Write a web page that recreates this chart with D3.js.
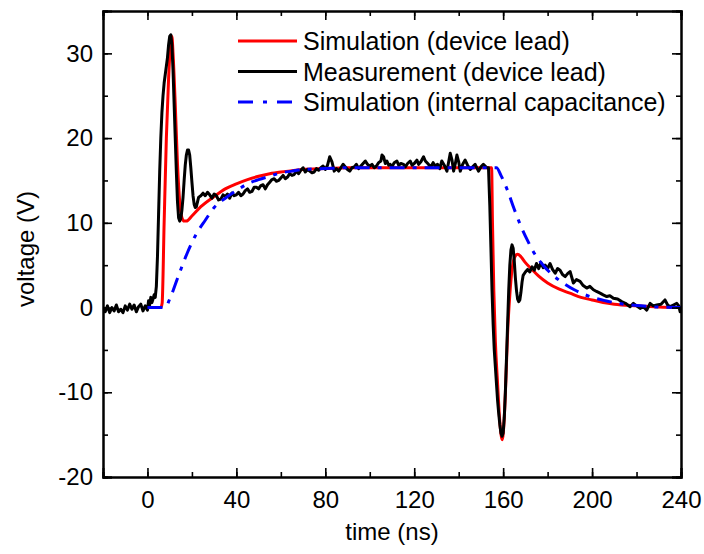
<!DOCTYPE html>
<html>
<head>
<meta charset="utf-8">
<script src="https://cdn.jsdelivr.net/npm/d3@7"></script>
<style>
  body { margin: 0; background: #fff; }
  text { font-family: "Liberation Sans", Arial, sans-serif; }
</style>
</head>
<body>
<div id="chart"></div>
<script>
// Simulation (device lead): [time ns, voltage V]
const simLead = [
  [0, 0], [6, 0], [6.6, 0.5], [7.5, 10], [8.5, 20], [9.5, 27], [10.5, 31.5], [11, 32],
  [11.5, 30], [12.5, 24], [13.5, 17], [14.5, 12.5], [15.5, 10.6], [16.5, 10.2], [17.5, 10.2],
  [20, 10.8], [24, 11.9], [30, 13.1], [35, 14.0], [40, 14.6], [45, 15.1], [50, 15.5],
  [55, 15.8], [60, 16.0], [65, 16.15], [70, 16.3], [80, 16.4], [90, 16.5], [154.8, 16.5],
  [155.2, 10], [155.8, 2], [156.5, -4], [157.5, -9], [158.5, -13.5], [159.6, -15.6],
  [160.5, -13], [161.3, -8], [162, -3], [163, 1.5], [164, 4.5], [165.5, 6.1], [166.5, 6.3],
  [168, 6.0], [170, 5.3], [173, 4.5], [176, 3.7], [180, 2.9], [185, 2.2], [190, 1.7],
  [195, 1.2], [200, 0.9], [205, 0.6], [210, 0.4], [220, 0.2], [230, 0.05], [240, 0]
];

// Measurement (device lead)
const measLead = [
  [-20, 0], [-19, -0.5], [-18, 0.2], [-17, -0.6], [-16, 0], [-15, -0.4], [-14, 0.3],
  [-13, -0.5], [-12, -0.2], [-11, -0.6], [-10, 0.2], [-9, -0.3], [-8, 0.4], [-7, -0.2],
  [-6, 0.3], [-5, -0.5], [-4, 0.1], [-3, 0.4], [-2, -0.4], [-1, 0.2], [0, -0.3],
  [0.5, 0.8], [1, 0.3], [1.5, 1.2], [2, 0.6], [2.5, 1.0], [3, 1.5], [3.5, 1.2], [4, 2.5],
  [4.5, 6], [5, 11], [5.5, 16], [6, 20], [6.5, 23], [7, 25], [7.5, 26.5], [8, 27.5],
  [8.5, 28.5], [9, 29.5], [9.5, 31], [10, 32], [10.5, 32.2], [11, 31], [11.5, 28], [12, 24],
  [12.5, 20], [13, 16], [13.5, 12.5], [14, 10.6], [14.5, 10.2], [15, 10.5], [15.5, 11.5],
  [16, 13], [16.5, 15], [17, 16.8], [17.5, 18], [18, 18.6], [18.5, 18.6], [19, 18],
  [19.5, 16.5], [20, 14.8], [20.5, 13.2], [21, 12.2], [21.5, 11.8], [22, 11.9], [23, 13.0],
  [24, 13.2], [25, 13.5], [26, 13.2], [27, 13.6], [28, 13.3], [29, 12.9], [30, 13.4],
  [31, 13.2], [32, 12.7], [33, 12.8], [34, 13.3], [35, 13.1], [36, 13.4], [37, 12.9],
  [38, 13.5], [39, 13.2], [40, 13.3], [41, 13.6], [42, 13.2], [43, 13.4], [44, 13.8],
  [45, 14.0], [46, 13.6], [47, 13.7], [48, 14.2], [49, 14.2], [50, 14.0], [51, 14.4],
  [52, 14.5], [53, 14.0], [54, 14.5], [55, 14.8], [56, 15.1], [57, 15.2], [58, 14.9],
  [59, 15.0], [60, 15.3], [61, 15.6], [62, 15.2], [63, 15.4], [64, 15.8], [65, 15.6],
  [66, 15.7], [67, 16.1], [68, 15.8], [69, 16.2], [70, 16.5], [71, 16.0], [72, 16.3],
  [73, 16.1], [74, 15.9], [75, 16.0], [76, 16.4], [77, 16.2], [78, 16.5], [79, 16.7],
  [80, 16.3], [81, 16.8], [82, 17.8], [83, 17.2], [84, 16.1], [85, 16.4], [86, 16.1],
  [87, 16.5], [88, 16.9], [89, 16.6], [90, 16.3], [91, 16.1], [92, 16.5], [93, 16.6],
  [94, 16.9], [95, 16.4], [96, 16.7], [97, 17.0], [98, 17.3], [99, 16.9], [100, 16.7],
  [101, 16.9], [102, 16.5], [103, 16.7], [104, 17.1], [105, 17.3], [105.5, 18.0],
  [106.2, 17.8], [107, 17.0], [107.7, 17.3], [108.5, 16.8], [109.2, 16.9], [110, 16.6],
  [111, 17.1], [112.2, 17.3], [113, 16.8], [114, 17.0], [115.2, 16.9], [116, 16.6],
  [117, 17.0], [118.2, 17.3], [119, 16.8], [120, 17.0], [121.2, 17.4], [122, 16.9],
  [123, 17.2], [124.2, 17.8], [125, 17.3], [126.4, 16.9], [127.5, 16.6], [128.5, 17.1],
  [129.4, 16.7], [130.5, 16.9], [131.5, 16.4], [132.4, 17.3], [133.5, 16.8], [134.7, 16.1],
  [135.5, 17.2], [136.2, 18.2], [137, 17.4], [137.7, 16.1], [138.5, 17.0], [139.2, 18.0],
  [140, 17.2], [140.7, 16.1], [141.8, 16.9], [142.9, 17.4], [144, 16.8], [145.2, 16.3],
  [146.3, 16.6], [147.4, 16.9], [148.9, 16.1], [150, 16.6], [151.1, 16.9], [152.7, 16.5],
  [153.4, 16.5], [154, 12], [154.5, 7], [155, 2], [155.5, -2], [156, -5], [156.5, -7],
  [157, -9], [157.5, -11], [158, -12.5], [158.5, -13.8], [159, -14.8], [159.5, -15.2],
  [160, -14.8], [160.5, -13], [161, -10], [161.5, -6], [162, -2], [162.5, 2], [163, 5],
  [163.5, 6.8], [164, 7.4], [164.5, 7.0], [165, 5.5], [165.5, 3.5], [166, 2], [166.5, 1.0],
  [167, 0.7], [167.5, 0.9], [168, 1.8], [168.5, 3.0], [169, 3.8], [170, 4.2], [171, 4.5],
  [172, 4.2], [173, 4.8], [174, 4.4], [175, 5.2], [176, 4.6], [177, 5.3], [178, 4.7],
  [178.9, 5.0], [180, 4.6], [181.1, 5.2], [182.2, 4.5], [183.4, 4.05], [184.5, 4.6],
  [185.6, 4.4], [186.7, 3.9], [187.9, 3.65], [189, 4.0], [190.1, 4.25], [191.6, 2.9],
  [193, 3.3], [194.6, 3.1], [196, 2.6], [197.6, 2.3], [199, 2.5], [200.6, 2.1], [202, 1.9],
  [203.6, 1.7], [205, 1.5], [206.6, 1.3], [208, 1.4], [209.6, 1.1], [211.5, 1.0],
  [213.3, 0.7], [215, 0.5], [217.1, 0.1], [218.6, 0.5], [220, 0.2], [221.6, -0.1],
  [223, 0.1], [224.6, -0.3], [226.1, 0.5], [227.5, 0.2], [229.1, 0.3], [231, 0.4],
  [232.8, 0.9], [234, 0.3], [235.1, 0.1], [236.6, 0.3], [238.1, 0.5], [239, 0.2],
  [239.6, -0.5], [240, -0.3]
];

// Simulation (internal capacitance)
const simCap = [
  [0, 0], [8, 0], [10, 1], [14, 3.8], [18, 6.5], [22, 8.7], [26, 10.3], [30, 11.8],
  [35, 12.9], [40, 13.8], [45, 14.6], [50, 15.1], [55, 15.5], [60, 15.9], [65, 16.1],
  [70, 16.3], [80, 16.4], [90, 16.5], [157, 16.5], [159, 15.6], [162, 13.8], [165, 11.6],
  [168, 9.6], [171, 7.9], [174, 6.4], [178, 5.0], [182, 3.9], [187, 2.9], [192, 2.1],
  [199, 1.3], [206, 0.8], [214, 0.4], [222, 0.2], [230, 0.05], [240, 0]
];

const xTicks = [0, 40, 80, 120, 160, 200, 240];
const yTicks = [-20, -10, 0, 10, 20, 30];

const legendNames = ["Simulation (device lead)", "Measurement (device lead)", "Simulation (internal capacitance)"];

const width = 704, height = 554;
const margin = { top: 11, right: 23, bottom: 77, left: 103 };

const svg = d3.select("#chart").append("svg")
  .attr("width", width)
  .attr("height", height);

const x = d3.scaleLinear().domain([-20, 240]).range([margin.left, width - margin.right]);
const y = d3.scaleLinear().domain([-20, 35]).range([height - margin.bottom, margin.top]);

const plot = svg.append("g");

plot.append("defs").append("clipPath").attr("id", "clip")
  .append("rect")
  .attr("x", x(-20)).attr("y", y(35))
  .attr("width", x(240) - x(-20)).attr("height", y(-20) - y(35));

const line = d3.line()
  .x(d => x(d[0]))
  .y(d => y(d[1]));

const smooth = d3.line()
  .x(d => x(d[0]))
  .y(d => y(d[1]))
  .curve(d3.curveMonotoneX);

const curves = plot.append("g").attr("clip-path", "url(#clip)");

curves.append("path")
  .datum(simLead)
  .attr("d", smooth)
  .attr("fill", "none")
  .attr("stroke", "#ff0000")
  .attr("stroke-width", 3);

curves.append("path")
  .datum(measLead)
  .attr("d", line)
  .attr("fill", "none")
  .attr("stroke", "#000")
  .attr("stroke-width", 3)
  .attr("stroke-linejoin", "round");

curves.append("path")
  .datum(simCap)
  .attr("d", smooth)
  .attr("fill", "none")
  .attr("stroke", "#0000ff")
  .attr("stroke-width", 3)
  .attr("stroke-dasharray", "15,8,4,8");

// axes with inward ticks on all sides
const minorX = d3.range(-20, 241, 20);
const minorY = d3.range(-20, 36, 5);

function frameAxis(axisFn, scale, ticks, minor, transform, pad) {
  const g = svg.append("g").attr("transform", transform);
  g.call(axisFn(scale).tickValues(minor).tickSize(-5).tickFormat(""));
  const gm = svg.append("g").attr("transform", transform);
  gm.call(axisFn(scale).tickValues(ticks).tickSize(-9).tickPadding(pad || 0)
    .tickFormat(pad ? (d => String(d)) : ""));
  [g, gm].forEach(a => {
    a.select(".domain").attr("stroke", "#000").attr("stroke-width", 2);
    a.selectAll(".tick line").attr("stroke", "#000").attr("stroke-width", 1.6);
    a.selectAll("text").attr("font-size", 24).attr("fill", "#000")
      .attr("font-family", "'Liberation Sans', Arial, sans-serif");
  });
  return gm;
}

frameAxis(d3.axisBottom, x, xTicks, minorX, `translate(0,${y(-20)})`, 14);
frameAxis(d3.axisTop, x, xTicks, minorX, `translate(0,${y(35)})`, 0);
frameAxis(d3.axisLeft, y, yTicks, minorY, `translate(${x(-20)},0)`, 10);
frameAxis(d3.axisRight, y, yTicks, minorY, `translate(${x(240)},0)`, 0);

// axis titles
svg.append("text")
  .attr("x", (x(-20) + x(240)) / 2)
  .attr("y", 540)
  .attr("text-anchor", "middle")
  .attr("font-size", 24)
  .text("time (ns)");

svg.append("text")
  .attr("transform", "translate(34,249) rotate(-90)")
  .attr("text-anchor", "middle")
  .attr("font-size", 24)
  .text("voltage (V)");

// legend
const legend = svg.append("g").attr("transform", "translate(238,41)");
const legendStyles = [
  { color: "#ff0000", dash: null },
  { color: "#000", dash: null },
  { color: "#0000ff", dash: "15,10,4,10" }
];
legendNames.forEach((name, i) => {
  const row = legend.append("g").attr("transform", `translate(0,${i * 30.5})`);
  row.append("line")
    .attr("x1", 0).attr("x2", 59).attr("y1", 0).attr("y2", 0)
    .attr("stroke", legendStyles[i].color)
    .attr("stroke-width", 3)
    .attr("stroke-dasharray", legendStyles[i].dash);
  row.append("text")
    .attr("x", 65).attr("y", 9)
    .attr("font-size", 25)
    .text(name);
});
</script>
</body>
</html>
